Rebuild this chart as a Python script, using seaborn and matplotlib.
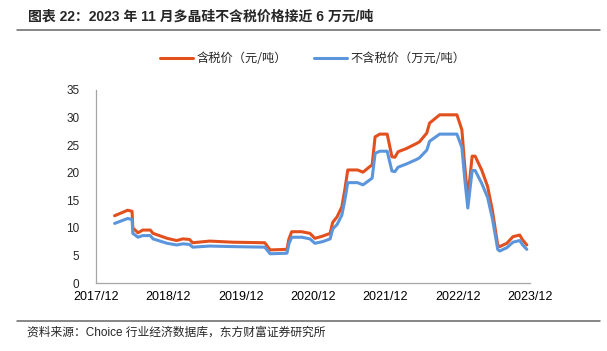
import pandas as pd
import matplotlib
matplotlib.use('Agg')
import matplotlib.pyplot as plt
import matplotlib.dates as mdates
from matplotlib.lines import Line2D
import seaborn as sns

# --- data (万元/吨) ---
dates = [
    "2018-03-05", "2018-05-10", "2018-06-01", "2018-06-05", "2018-07-01",
    "2018-07-25", "2018-09-01", "2018-09-15", "2018-11-25", "2019-01-12",
    "2019-02-12", "2019-03-18", "2019-04-03", "2019-06-28", "2019-10-22",
    "2020-04-01", "2020-04-28", "2020-07-22", "2020-08-01", "2020-08-15",
    "2020-10-05", "2020-11-15", "2020-12-10", "2021-01-18", "2021-02-25",
    "2021-03-10", "2021-04-01", "2021-04-25", "2021-05-10", "2021-05-25",
    "2021-07-13", "2021-08-10", "2021-09-13", "2021-09-25", "2021-10-10",
    "2021-11-03", "2021-12-10", "2022-01-03", "2022-01-18", "2022-02-03",
    "2022-03-18", "2022-05-07", "2022-05-22", "2022-06-28", "2022-07-12",
    "2022-09-01", "2022-11-27", "2022-12-22", "2023-01-06", "2023-01-21",
    "2023-02-12", "2023-02-27", "2023-04-01", "2023-05-01", "2023-05-25",
    "2023-06-21", "2023-07-01", "2023-08-06", "2023-09-06", "2023-10-10",
    "2023-10-25", "2023-11-15",
]
price_with_tax = [
    12.2, 13.2, 13.0, 10.0, 9.1,
    9.6, 9.6, 9.0, 8.1, 7.7,
    8.0, 7.9, 7.3, 7.6, 7.4,
    7.3, 6.0, 6.1, 8.0, 9.3,
    9.3, 9.0, 8.1, 8.5, 9.0,
    11.0, 12.0, 13.8, 16.9, 20.5,
    20.5, 20.1, 21.1, 21.4, 26.5,
    27.0, 27.0, 22.9, 22.8, 23.8,
    24.4, 25.3, 25.6, 27.2, 29.0,
    30.5, 30.5, 27.8, 21.1, 15.4,
    23.0, 23.0, 20.5, 17.5, 13.2,
    6.9, 6.6, 7.2, 8.4, 8.7,
    7.8, 6.9,
]
price_ex_tax = [
    10.8, 11.7, 11.5, 9.0, 8.3,
    8.6, 8.6, 8.0, 7.2, 6.9,
    7.1, 7.0, 6.5, 6.7, 6.6,
    6.5, 5.3, 5.4, 7.1, 8.3,
    8.3, 8.0, 7.2, 7.5, 8.0,
    9.8, 10.6, 12.3, 15.0, 18.2,
    18.2, 17.8, 18.7, 19.0, 23.5,
    23.9, 23.9, 20.3, 20.2, 21.0,
    21.6, 22.4, 22.7, 24.1, 25.7,
    27.0, 27.0, 24.6, 18.7, 13.6,
    20.4, 20.4, 18.1, 15.5, 11.7,
    6.1, 5.8, 6.4, 7.4, 7.7,
    6.9, 6.1,
]
year_ticks = ["2017-12-01", "2018-12-01", "2019-12-01", "2020-12-01",
              "2021-12-01", "2022-12-01", "2023-12-01"]

label_with = "含税价（元/吨）"
label_ex = "不含税价（万元/吨）"

df = pd.DataFrame({"date": pd.to_datetime(dates),
                   label_with: price_with_tax,
                   label_ex: price_ex_tax})

sns.set_theme(style="white")
plt.rcParams['font.family'] = ['Liberation Sans', 'Noto Sans CJK SC']
plt.rcParams['axes.unicode_minus'] = False
CJK = ['Noto Sans CJK SC', 'DejaVu Sans']

RED = '#E2501E'
BLUE = '#5B96DC'
GREY = '#A6A6A6'

fig = plt.figure(figsize=(6.07, 3.51), dpi=100)
ax = fig.add_axes([96 / 607, 1 - 283 / 351, (530 - 96) / 607, (283 - 90) / 351])

sns.lineplot(data=df, x="date", y=label_with, ax=ax, color=RED, lw=2.2, label=label_with)
sns.lineplot(data=df, x="date", y=label_ex, ax=ax, color=BLUE, lw=2.2, label=label_ex)

ax.set_xlim(pd.Timestamp(year_ticks[0]), pd.Timestamp(year_ticks[-1]))
ax.set_ylim(0, 35)
ax.set_yticks(range(0, 36, 5))
ax.set_xticks(pd.to_datetime(year_ticks))
ax.xaxis.set_major_formatter(mdates.DateFormatter('%Y/%m'))
ax.set_xlabel('')
ax.set_ylabel('')

for side in ['top', 'right']:
    ax.spines[side].set_visible(False)
for side in ['left', 'bottom']:
    ax.spines[side].set_color(GREY)
    ax.spines[side].set_linewidth(0.9)

ax.tick_params(axis='x', length=3, width=0.9, labelsize=9, pad=3, colors='black')
ax.tick_params(axis='x', color=GREY)
ax.tick_params(axis='y', length=0, labelsize=8.5, pad=12)

leg = ax.legend(loc='center', bbox_to_anchor=(0.5, 1 + 31 / 193), ncol=2, frameon=False,
                prop={'family': CJK, 'size': 8.8}, handlelength=2.7, handletextpad=0.3,
                columnspacing=2.2)

# title, rules and source note
fig.text(28 / 607, 1 - 17 / 351, "图表 22：2023 年 11 月多晶硅不含税价格接近 6 万元/吨",
         fontsize=10, fontweight='bold', va='center', ha='left',
         family=['Liberation Sans', 'Noto Sans CJK SC'])
fig.add_artist(Line2D([17 / 607, 600 / 607], [1 - 30 / 351] * 2, color='#666666', lw=1.1))
fig.add_artist(Line2D([17 / 607, 600 / 607], [1 - 321 / 351] * 2, color='#666666', lw=1.1))
fig.text(27 / 607, 1 - 333 / 351, "资料来源：Choice 行业经济数据库，东方财富证券研究所",
         fontsize=8.5, va='center', ha='left', family=['Liberation Sans', 'Noto Sans CJK SC'])

fig.savefig('out.png', dpi=100)
plt.close(fig)
